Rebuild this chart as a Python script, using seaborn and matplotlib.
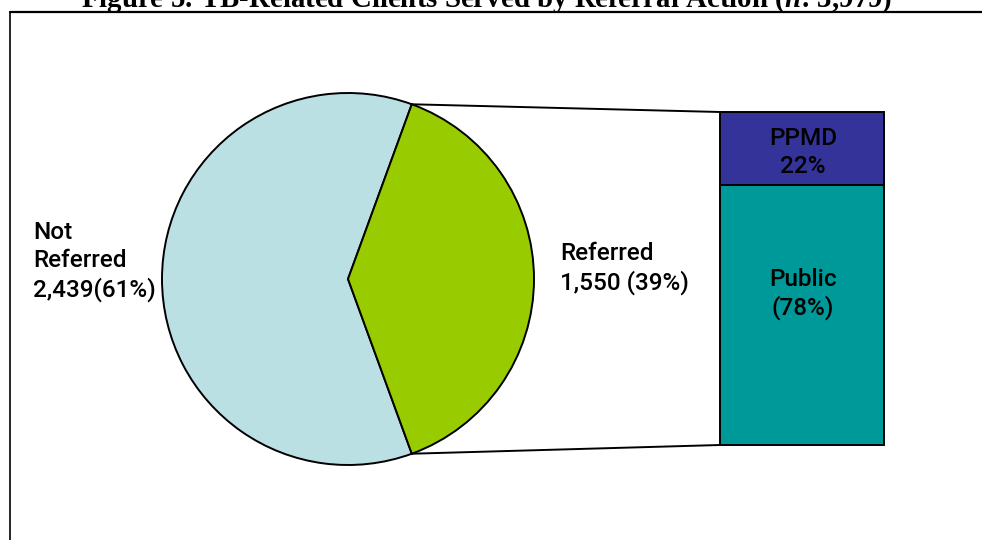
import matplotlib
matplotlib.use("Agg")
import matplotlib.pyplot as plt
import numpy as np
import seaborn as sns
from matplotlib.patches import ConnectionPatch
from matplotlib.lines import Line2D

# ---- data ----
pie_categories = ["Not Referred", "Referred"]
pie_counts = [2439, 1550]
pie_labels = ["Not\nReferred\n2,439(61%)", "Referred\n1,550 (39%)"]
pie_colors = ["#BBE0E3", "#99CC00"]

bar_categories = ["Public", "PPMD"]
bar_shares = [78, 22]
bar_labels = ["Public\n(78%)", "PPMD\n22%"]
bar_colors = ["#009999", "#333399"]

title_text = "Figure 5: TB-Related Clients Served by Referral Action ($n$: 3,979)"

# ---- style ----
sns.set_theme(style="white")
plt.rcParams["font.family"] = ["Roboto", "DejaVu Sans"]
plt.rcParams["mathtext.fontset"] = "custom"
plt.rcParams["mathtext.it"] = "Liberation Serif:italic:bold"
plt.rcParams["mathtext.rm"] = "Liberation Serif:bold"

W, H = 982, 540
fig = plt.figure(figsize=(W / 100, H / 100), dpi=100)
fig.patch.set_facecolor("white")


def px_axes(x0, y0, x1, y1):
    """Axes placed by pixel box (top-left origin)."""
    return fig.add_axes([x0 / W, (H - y1) / H, (x1 - x0) / W, (y1 - y0) / H])


edge_lw = 1.4
label_size = 17.5
label_weight = 500

# ---- pie ----
cx, cy, r = 348, 279, 186
ax_pie = px_axes(cx - r, cy - r, cx + r, cy + r)
total = sum(pie_counts)
half_angle = 180.0 * pie_counts[1] / total
wedges, _ = ax_pie.pie(pie_counts, colors=pie_colors, startangle=half_angle,
                       counterclock=True,
                       wedgeprops=dict(edgecolor="black", linewidth=edge_lw))
for w in wedges:
    w.set_clip_on(False)
ax_pie.set_xlim(-1, 1)
ax_pie.set_ylim(-1, 1)
ax_pie.set_aspect("equal")
ax_pie.axis("off")

# ---- stacked bar for the referred slice ----
ax_bar = px_axes(720, 112, 884, 445)
sns.barplot(x=["Referred"], y=[bar_shares[0]], color=bar_colors[0],
            width=1.0, edgecolor="black", linewidth=edge_lw,
            saturation=1, ax=ax_bar)
ax_bar.bar([0], [bar_shares[1]], bottom=[bar_shares[0]], width=1.0,
           color=bar_colors[1], edgecolor="black", linewidth=edge_lw)
for p in ax_bar.patches:
    p.set_clip_on(False)
ax_bar.set_xlim(-0.5, 0.5)
ax_bar.set_ylim(0, 100)
ax_bar.axis("off")

# ---- connector lines from slice edges to bar corners ----
ang = np.deg2rad(half_angle)
for sign, ybar in ((1, sum(bar_shares)), (-1, 0)):
    con = ConnectionPatch(xyA=(np.cos(ang), sign * np.sin(ang)), coordsA=ax_pie.transData,
                          xyB=(-0.5, ybar), coordsB=ax_bar.transData,
                          color="black", lw=edge_lw)
    fig.add_artist(con)

# overlay for frame and text, in pixel units (top-left origin)
top = fig.add_axes([0, 0, 1, 1], zorder=10)
top.set_xlim(0, W)
top.set_ylim(H, 0)
top.axis("off")

# frame around the chart area
top.add_line(Line2D([10, 10], [11.5, H + 5], color="black", lw=1.2))
top.add_line(Line2D([10, W + 5], [11.5, 11.5], color="black", lw=1.6))

# title (runs off the top edge)
top.text(487, 7, title_text, ha="center", va="baseline",
         fontsize=20.8, fontweight="bold", family="Liberation Serif",
         color="black")

# pie labels (anchored at the baseline of the last line)
top.text(33, 297, pie_labels[0], ha="left", va="baseline", fontsize=label_size,
         fontweight=label_weight, linespacing=1.3, color="black")
top.text(560, 290, pie_labels[1], ha="left", va="baseline", fontsize=label_size,
         fontweight=label_weight, linespacing=1.3, color="black")

# bar labels
top.text(803, 315, bar_labels[0], ha="center", va="baseline", fontsize=label_size,
         fontweight=label_weight, linespacing=1.25, color="black")
top.text(803, 173, bar_labels[1], ha="center", va="baseline", fontsize=label_size,
         fontweight=label_weight, linespacing=1.3, color="black")

fig.savefig("out.png", dpi=100, facecolor="white")
